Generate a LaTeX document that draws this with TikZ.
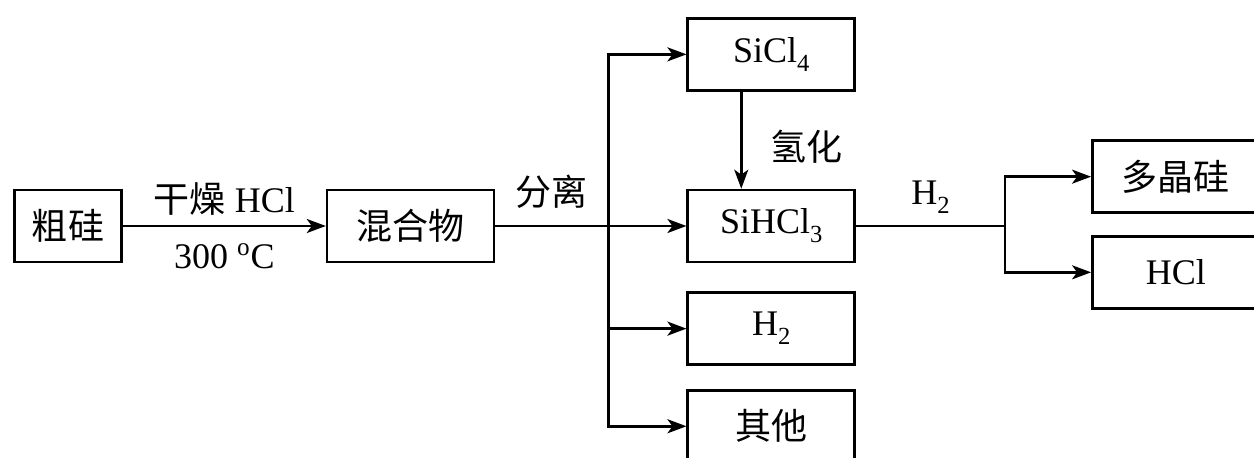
\documentclass[tikz,border=0pt]{standalone}
\usepackage{fontspec}
\setmainfont{Liberation Serif}
\newfontfamily\cjk{Noto Sans CJK SC}
\usetikzlibrary{arrows.meta, positioning}
\newcommand{\chemsub}[1]{\raisebox{-0.55ex}{\fontsize{14}{14}\selectfont #1}}

\begin{document}
\begin{tikzpicture}[node distance=1cm and 2cm, line width=1.5pt, font=\fontsize{20.5}{24}\selectfont]
\tikzstyle{box}=[rectangle, minimum width=3.34cm, minimum height=1.44cm, text centered, draw=black, inner sep=0pt]
\tikzstyle{arrow}=[->, >={Stealth[length=0.38cm, width=0.28cm, inset=0.1cm]}]

\useasboundingbox (0,0) rectangle (25.08,-9.16);
\clip (0,0) rectangle (25.08,-9.16);

\node (crude) [box, minimum width=2.14cm] at (1.36,-4.52) {\cjk 粗硅};
\node (mix) [box, right=4.06cm of crude] {\cjk 混合物};
\coordinate [right=2.26cm of mix] (split);
\node (sihcl) [box, right=3.82cm of mix] {SiHCl\chemsub{3}};
\node (sicl) [box, above=1.94cm of sihcl] {SiCl\chemsub{4}};
\node (htwo) [box, below=0.56cm of sihcl] {H\chemsub{2}};
\node (other) [box, below=0.46cm of htwo] {\cjk 其他};
\coordinate [right=2.98cm of sihcl] (join);
\node (poly) [box, above right=0.24cm and 4.7cm of sihcl.east] {\cjk 多晶硅};
\node (hcl) [box, below right=0.18cm and 4.7cm of sihcl.east] {HCl};

\draw [arrow] (crude) -- node[above=2pt] {{\cjk 干燥} HCl} node[below=6pt] {300 \textsuperscript{o}C} (mix);
\draw (mix) -- node[above=6pt] {\cjk 分离} (split);
\draw [arrow] (split) -- (sihcl);
\draw [arrow] (split) |- (sicl);
\draw [arrow] (split) |- (htwo);
\draw [arrow] (split) |- (other);
\draw [arrow] ([xshift=-0.6cm]sicl.south) -- node[right=0.45cm, yshift=-4pt] {\cjk 氢化} ([xshift=-0.6cm]sihcl.north);
\draw (sihcl) -- node[above=3pt] {H\chemsub{2}} (join);
\draw [arrow] (join) |- (poly);
\draw [arrow] (join) |- (hcl);

\end{tikzpicture}
\end{document}
